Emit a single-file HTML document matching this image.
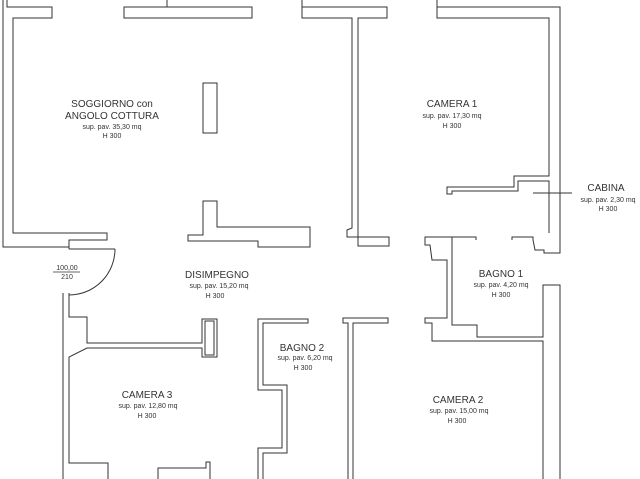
<!DOCTYPE html>
<html><head><meta charset="utf-8"><style>
html,body{margin:0;padding:0;background:#fff;}
svg{display:block;}
text{font-family:"Liberation Sans",sans-serif;fill:#333;text-anchor:middle;}
.t{font-size:10px;}
.s{font-size:7px;}
</style></head><body>
<svg width="640" height="479" viewBox="0 0 640 479" xmlns="http://www.w3.org/2000/svg">
<g fill="none" stroke="#333" stroke-width="1">
<!-- top-left -->
<polyline points="3,0 3,247 69,247 69,249"/>
<polyline points="7,0 7,7 52,7 52,18 13,18 13,233 107,233 107,240 69,240 69,247"/>
<rect x="124" y="7" width="128" height="11"/>
<line x1="167" y1="0" x2="167" y2="7"/>
<rect x="203" y="83" width="14" height="50"/>
<polyline points="217,220 217,227 310,227 310,247 258,247 258,241 188,241 188,235 203,235 203,201 217,201 217,227"/>
<!-- T wall -->
<polyline points="302,0 302,7 387,7 387,18 358,18 358,246 389,246 389,237 347,237 347,230 352,228 352,18 302,18 302,7"/>
<!-- camera 1 -->
<polyline points="437,0 437,7 560,7 560,253 544,253 544,250 535,250 533,240 533,237 512,237 512,240"/>
<polyline points="437,7 437,18 549,18 549,176 514,176 514,187 447,187 447,194 452,194 452,191 518,191 518,181 549,181 549,233"/>
<line x1="533" y1="193" x2="572" y2="193"/>
<!-- bagno1 -->
<polyline points="476,240 476,237 425,237 425,245 430,245 432,260 447,260 447,318 425,318 425,323 432,323 432,341 543,341 543,479"/>
<polyline points="452,237 452,325 477,325 477,337 543,337 543,285 560,285 560,479"/>
<!-- door -->
<line x1="69" y1="249" x2="115" y2="249"/>
<path d="M115,249 A46,46 0 0 1 69,295"/>
<line x1="53" y1="272" x2="80" y2="272" stroke-width="0.7"/>
<!-- camera 3 -->
<line x1="63" y1="293" x2="63" y2="479"/>
<polyline points="69,293 69,317 87,317 87,343 202,343 202,319 217,319 217,357 202,357 202,348 87,348 69,357 69,463 108,463 108,479"/>
<rect x="205" y="321" width="9" height="34"/>
<polyline points="158,479 158,468 206,468 206,462 210,462 210,479"/>
<!-- bagno 2 -->
<polyline points="258,479 258,448 282,448 282,390 258,390 258,319 308,319 308,323 263,323 263,385 287,385 287,453 263,453 263,479"/>
<polyline points="348,479 348,323 343,323 343,318 388,318 388,323 353,323 353,479"/>
</g>
<text class="t" x="112" y="107">SOGGIORNO con</text>
<text class="t" x="112" y="119">ANGOLO COTTURA</text>
<text class="s" x="112" y="129">sup. pav. 35,30 mq</text>
<text class="s" x="112" y="138">H 300</text>
<text class="t" x="452" y="107">CAMERA 1</text>
<text class="s" x="452" y="118">sup. pav. 17,30 mq</text>
<text class="s" x="452" y="128">H 300</text>
<text class="t" x="606" y="191">CABINA</text>
<text class="s" x="608" y="202">sup. pav. 2,30 mq</text>
<text class="s" x="608" y="211">H 300</text>
<text class="s" x="67" y="270">100,00</text>
<text class="s" x="67" y="279">210</text>
<text class="t" x="217" y="278">DISIMPEGNO</text>
<text class="s" x="219" y="288">sup. pav. 15,20 mq</text>
<text class="s" x="215" y="298">H 300</text>
<text class="t" x="501" y="277">BAGNO 1</text>
<text class="s" x="501" y="287">sup. pav. 4,20 mq</text>
<text class="s" x="501" y="297">H 300</text>
<text class="t" x="302" y="351">BAGNO 2</text>
<text class="s" x="305" y="360">sup. pav. 6,20 mq</text>
<text class="s" x="303" y="370">H 300</text>
<text class="t" x="147" y="398">CAMERA 3</text>
<text class="s" x="148" y="408">sup. pav. 12,80 mq</text>
<text class="s" x="147" y="418">H 300</text>
<text class="t" x="458" y="403">CAMERA 2</text>
<text class="s" x="459" y="413">sup. pav. 15,00 mq</text>
<text class="s" x="457" y="423">H 300</text>
</svg>
</body></html>
